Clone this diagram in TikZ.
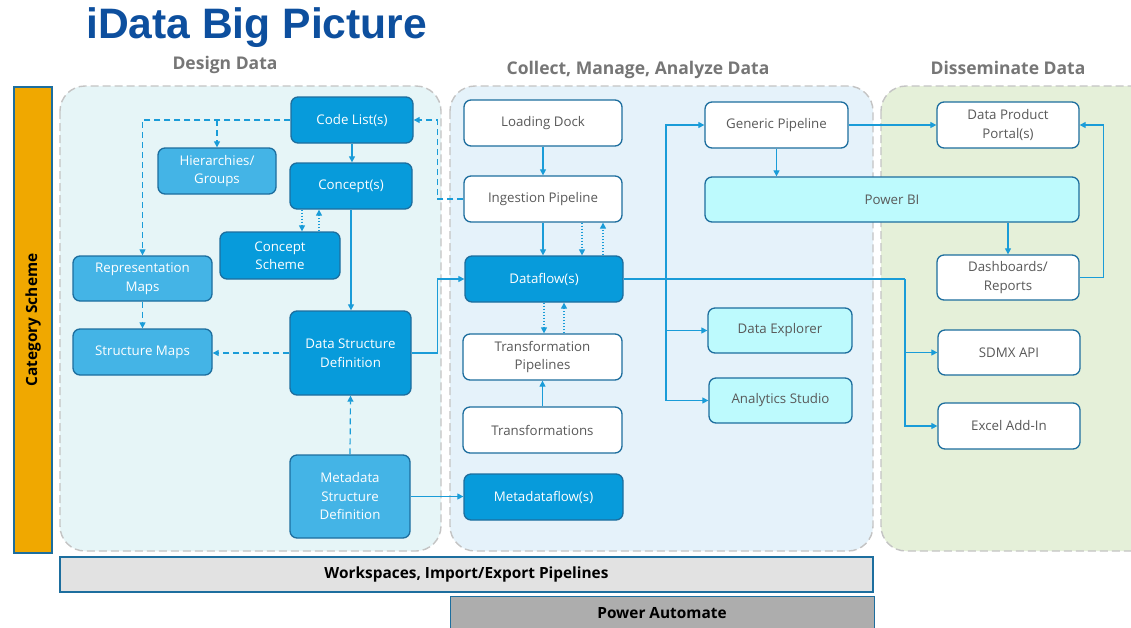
\documentclass[tikz,border=0pt]{standalone}
\usepackage{fontspec}
\setmainfont{Open Sans}
\newfontfamily\titlefont{Liberation Sans}
\usetikzlibrary{arrows.meta,calc}
\definecolor{lineblue}{HTML}{1A9CD8}
\definecolor{darkfill}{HTML}{079BDB}
\definecolor{lightfill}{HTML}{44B4E6}
\definecolor{boxborder}{HTML}{1D6E9E}
\definecolor{cyanfill}{HTML}{BDFAFD}
\definecolor{txtgrey}{HTML}{595959}
\definecolor{secgrey}{HTML}{767676}
\definecolor{titleblue}{HTML}{0D4F9E}
\definecolor{panelA}{HTML}{E6F5F7}
\definecolor{panelB}{HTML}{E5F2FA}
\definecolor{panelC}{HTML}{E5F0D9}
\definecolor{dashgrey}{HTML}{C4C4C4}
\definecolor{orangebar}{HTML}{F0A800}
\definecolor{wsgrey}{HTML}{E2E2E2}
\definecolor{pagrey}{HTML}{ADADAD}
\tikzset{
  base/.style={rounded corners=7pt, draw=boxborder, line width=1.3pt, align=center, inner sep=0pt, font=\fontsize{13.3}{18.5}\selectfont},
  darkbox/.style={base, fill=darkfill, text=white},
  lightbox/.style={base, fill=lightfill, text=white},
  whitebox/.style={base, fill=white, text=txtgrey},
  cyanbox/.style={base, fill=cyanfill, text=txtgrey},
  panel/.style={rounded corners=25pt, draw=dashgrey, line width=1.4pt, dash pattern=on 8pt off 4pt},
  seclabel/.style={font=\bfseries\fontsize{17.5}{20}\selectfont, text=secgrey},
  arr/.style={draw=lineblue, line width=1.2pt, -{Triangle[length=6pt,width=6pt]}},
  plain/.style={draw=lineblue, line width=1.2pt},
  dasharr/.style={arr, dash pattern=on 6pt off 4pt},
  dotarr/.style={arr, dash pattern=on 1.5pt off 1.5pt},
  barfont/.style={font=\bfseries\fontsize{15.4}{18}\selectfont, text=black},
  bar/.style={draw=boxborder, line width=1.3pt, barfont}
}
\begin{document}
\begin{tikzpicture}[x=1pt,y=-1pt]
\clip (0,0) rectangle (1131,627);
\fill[white] (0,0) rectangle (1131,627);

% title and section labels
\node[font=\titlefont\bfseries\fontsize{42.6}{48}\selectfont, text=titleblue, anchor=base west, inner sep=0pt] (title) at (86,38) {iData Big Picture};
\node[seclabel] (secA) at (225,65) {Design Data};
\node[seclabel] (secB) at (638,70) {Collect, Manage, Analyze Data};
\node[seclabel] (secC) at (1008,68) {Disseminate Data};

% panels
\path[panel, fill=panelA] (60,86) rectangle (441,551);
\path[panel, fill=panelB] (450,86) rectangle (873,551);
\path[panel, fill=panelC] (881,86) rectangle (1160,551);

% category scheme bar
\node[draw=boxborder, line width=1.3pt, fill=orangebar, minimum width=38pt, minimum height=466pt, inner sep=0pt] (cat) at (33,320) {};
\node[rotate=90, barfont] (catlbl) at (cat.center) {Category Scheme};

% bottom bars
\node[bar, fill=wsgrey, minimum width=813pt, minimum height=35pt, inner sep=0pt] (ws) at (466.5,574.5) {Workspaces, Import/Export Pipelines};
\node[bar, fill=pagrey, minimum width=424pt, minimum height=34pt, inner sep=0pt, anchor=north west] (pa) at (450,596) {};
\node[barfont] (palbl) at (662,613) {Power Automate};

% design data nodes
\node[darkbox, minimum width=122pt, minimum height=46pt] (code) at (352,120) {Code List(s)};
\node[lightbox, minimum width=118pt, minimum height=46pt] (hier) at (217,171) {Hierarchies/\\Groups};
\node[darkbox, minimum width=122pt, minimum height=46pt] (concept) at (351,186) {Concept(s)};
\node[darkbox, minimum width=120pt, minimum height=47pt] (cscheme) at (280,255.5) {Concept\\Scheme};
\node[lightbox, minimum width=139pt, minimum height=45pt] (repmap) at (142.5,278.5) {Representation\\Maps};
\node[lightbox, minimum width=139pt, minimum height=46pt] (strmap) at (142.5,352) {Structure Maps};
\node[darkbox, minimum width=121pt, minimum height=84pt] (dsd) at (350.5,353) {Data Structure\\Definition};
\node[lightbox, minimum width=120pt, minimum height=83pt] (msd) at (350,496.5) {Metadata\\Structure\\Definition};

% collect nodes
\node[whitebox, minimum width=158pt, minimum height=46pt] (load) at (543,123) {Loading Dock};
\node[whitebox, minimum width=158pt, minimum height=46pt] (ingest) at (543,199) {Ingestion Pipeline};
\node[darkbox, minimum width=158pt, minimum height=46pt] (dflow) at (544,279) {Dataflow(s)};
\node[whitebox, minimum width=159pt, minimum height=46pt] (tpipe) at (542.5,357) {Transformation\\Pipelines};
\node[whitebox, minimum width=159pt, minimum height=46pt] (trans) at (542.5,430) {Transformations};
\node[darkbox, minimum width=159pt, minimum height=46pt] (mflow) at (543.5,497) {Metadataflow(s)};
\node[whitebox, minimum width=143pt, minimum height=46pt] (generic) at (776.5,125) {Generic Pipeline};
\node[cyanbox, minimum width=374pt, minimum height=45pt] (powerbi) at (892,199.5) {Power BI};
\node[cyanbox, minimum width=144pt, minimum height=45pt] (explorer) at (780,330.5) {Data Explorer};
\node[cyanbox, minimum width=143pt, minimum height=45pt] (analytics) at (780.5,400.5) {Analytics Studio};

% disseminate nodes
\node[whitebox, minimum width=142pt, minimum height=46pt] (portal) at (1008,125) {Data Product\\Portal(s)};
\node[whitebox, minimum width=142pt, minimum height=45pt] (dash) at (1008,277.5) {Dashboards/\\Reports};
\node[whitebox, minimum width=142pt, minimum height=45pt] (sdmx) at (1009,352.5) {SDMX API};
\node[whitebox, minimum width=142pt, minimum height=46pt] (excel) at (1009,426) {Excel Add-In};

% design data connectors
\draw[arr] (code.south) -- (code.south |- concept.north);
\draw[dasharr] (code.west) -| (repmap.north);
\draw[dasharr] (hier.north |- code.west) -- (hier.north);
\draw[dotarr] ([xshift=-49pt]concept.south) -- ([xshift=-49pt]concept.south |- cscheme.north);
\draw[dotarr] ([xshift=-32pt]concept.south |- cscheme.north) -- ([xshift=-32pt]concept.south);
\draw[arr] (concept.south) -- (concept.south |- dsd.north);
\draw[dasharr] (repmap.south) -- (strmap.north);
\draw[dasharr] (dsd.west) -- (dsd.west -| strmap.east);
\draw[dasharr] (msd.north) -- (dsd.south);
\draw[arr] (dsd.east) -- ++(26,0) |- (dflow.west);
\draw[arr] (msd.east) -- (msd.east -| mflow.west);
\draw[dasharr] (ingest.west) -- ++(-26,0) |- (code.east);

% collect connectors
\draw[arr] (load.south) -- (ingest.north);
\draw[arr] (ingest.south) -- (ingest.south |- dflow.north);
\draw[dotarr] ([xshift=39pt]ingest.south) -- ([xshift=39pt]ingest.south |- dflow.north);
\draw[dotarr] ([xshift=60pt]ingest.south |- dflow.north) -- ([xshift=60pt]ingest.south);
\draw[dotarr] (dflow.south) -- (dflow.south |- tpipe.north);
\draw[dotarr] ([xshift=20pt]dflow.south |- tpipe.north) -- ([xshift=20pt]dflow.south);
\draw[arr] (trans.north) -- (tpipe.south);

\coordinate (j1) at (666,279);
\coordinate (j2) at (905,279);
\draw[plain] (dflow.east) -- (j2);
\draw[arr] (j1) |- (generic.west);
\draw[arr] (j1) |- (explorer.west);
\draw[arr] (j1) |- (analytics.west);
\draw[arr] (j2) |- (excel.west);
\draw[arr] (j2 |- sdmx.west) -- (sdmx.west);
\draw[arr] (generic.east) -- (portal.west);
\draw[arr] (generic.south) -- (generic.south |- powerbi.north);
\draw[arr] (dash.north |- powerbi.south) -- (dash.north);
\draw[arr] (dash.east) -- ++(24,0) |- (portal.east);
\end{tikzpicture}
\end{document}
